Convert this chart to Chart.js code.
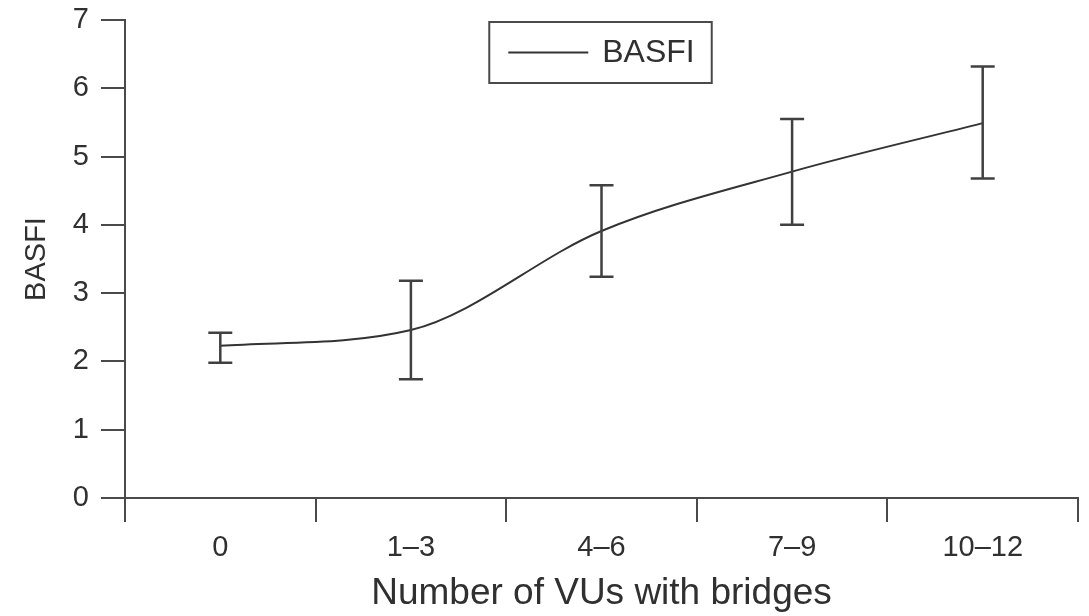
<!DOCTYPE html>
<html>
<head>
<meta charset="utf-8">
<title>BASFI by number of VUs with bridges</title>
<script src="https://cdn.jsdelivr.net/npm/chart.js@4/dist/chart.umd.min.js"></script>
<style>
  html, body { margin: 0; padding: 0; background: #ffffff; }
  #wrap { width: 1089px; height: 616px; }
</style>
</head>
<body>
<div id="wrap"><canvas id="chart" width="1089" height="616"></canvas></div>
<script>
// Groups: number of vertebral units with bridges
const categories = ['0', '1–3', '4–6', '7–9', '10–12'];
// Mean BASFI per group
const basfiMean = [2.23, 2.46, 3.91, 4.78, 5.49];
// Upper and lower ends of the error bars
const basfiUpper = [2.42, 3.18, 4.58, 5.55, 6.32];
const basfiLower = [1.98, 1.74, 3.24, 4.00, 4.68];
// Y axis ticks
const yTicks = [0, 1, 2, 3, 4, 5, 6, 7];

const INK = '#303030';
const AXIS = '#4a4a4a';
const FONT = '"Liberation Sans", Arial, Helvetica, sans-serif';

// Vertical error bars with caps, placed through the chart scales
const errorBars = {
  id: 'errorBars',
  afterDatasetsDraw(chart) {
    const xs = chart.scales.x, ys = chart.scales.y;
    const ctx = chart.ctx;
    const cap = 12;
    ctx.save();
    ctx.strokeStyle = '#404040';
    ctx.lineWidth = 2.5;
    ctx.lineCap = 'butt';
    categories.forEach((c, i) => {
      const x = xs.getPixelForValue(i);
      const yt = ys.getPixelForValue(basfiUpper[i]);
      const yb = ys.getPixelForValue(basfiLower[i]);
      ctx.beginPath();
      ctx.moveTo(x, yt); ctx.lineTo(x, yb);
      ctx.moveTo(x - cap, yt); ctx.lineTo(x + cap, yt);
      ctx.moveTo(x - cap, yb); ctx.lineTo(x + cap, yb);
      ctx.stroke();
    });
    ctx.restore();
  }
};

// Framed legend entry at the top centre of the plot area
const framedLegend = {
  id: 'framedLegend',
  afterDraw(chart) {
    const ds = chart.data.datasets[0];
    const area = chart.chartArea;
    const ctx = chart.ctx;
    const sample = 80, gap = 14;
    ctx.save();
    ctx.font = '32px ' + FONT;
    const tw = ctx.measureText(ds.label).width;
    const total = sample + gap + tw;
    const cx = (area.left + area.right) / 2;
    const cy = area.top + 32.5;
    const x0 = cx - total / 2;
    // frame
    ctx.strokeStyle = AXIS;
    ctx.lineWidth = 2;
    ctx.strokeRect(x0 - 19, cy - 30.5, total + 36, 61);
    // line sample
    ctx.strokeStyle = ds.borderColor;
    ctx.lineWidth = ds.borderWidth;
    ctx.beginPath();
    ctx.moveTo(x0, cy);
    ctx.lineTo(x0 + sample, cy);
    ctx.stroke();
    // label
    ctx.fillStyle = INK;
    ctx.textAlign = 'left';
    ctx.textBaseline = 'middle';
    ctx.fillText(ds.label, x0 + sample + gap, cy + 1);
    ctx.restore();
  }
};

new Chart(document.getElementById('chart'), {
  type: 'line',
  data: {
    labels: categories,
    datasets: [{
      label: 'BASFI',
      data: basfiMean,
      borderColor: '#333333',
      backgroundColor: '#333333',
      borderWidth: 2,
      pointRadius: 0,
      fill: false,
      cubicInterpolationMode: 'monotone'
    }]
  },
  options: {
    responsive: false,
    animation: false,
    devicePixelRatio: 1,
    events: [],
    layout: { padding: { top: 20, right: 11, left: 0, bottom: 0 } },
    plugins: {
      tooltip: { enabled: false },
      legend: { display: false }
    },
    scales: {
      x: {
        type: 'category',
        offset: true,
        grid: {
          offset: true,
          drawOnChartArea: false,
          drawTicks: true,
          tickLength: 24,
          color: AXIS,
          lineWidth: 2
        },
        border: { color: AXIS, width: 2 },
        ticks: {
          color: INK,
          padding: 9,
          maxRotation: 0,
          font: { family: FONT, size: 29 }
        },
        title: {
          display: true,
          text: 'Number of VUs with bridges',
          color: INK,
          font: { family: FONT, size: 37 },
          padding: { top: 0, bottom: 0 }
        },
        afterFit(scale) { scale.height = 118; }
      },
      y: {
        min: yTicks[0],
        max: yTicks[yTicks.length - 1],
        afterBuildTicks(scale) { scale.ticks = yTicks.map(v => ({ value: v })); },
        grid: {
          drawOnChartArea: false,
          drawTicks: true,
          tickLength: 24,
          color: AXIS,
          lineWidth: 2
        },
        border: { color: AXIS, width: 2 },
        ticks: {
          color: INK,
          padding: 12,
          font: { family: FONT, size: 29 }
        },
        title: {
          display: true,
          text: 'BASFI',
          color: INK,
          font: { family: FONT, size: 29 },
          padding: { top: 20, bottom: 0 }
        },
        afterFit(scale) {
          scale.width = 125;
          scale.paddingTop = 0;
          scale.paddingBottom = 0;
        }
      }
    }
  },
  plugins: [errorBars, framedLegend]
});
</script>
</body>
</html>
